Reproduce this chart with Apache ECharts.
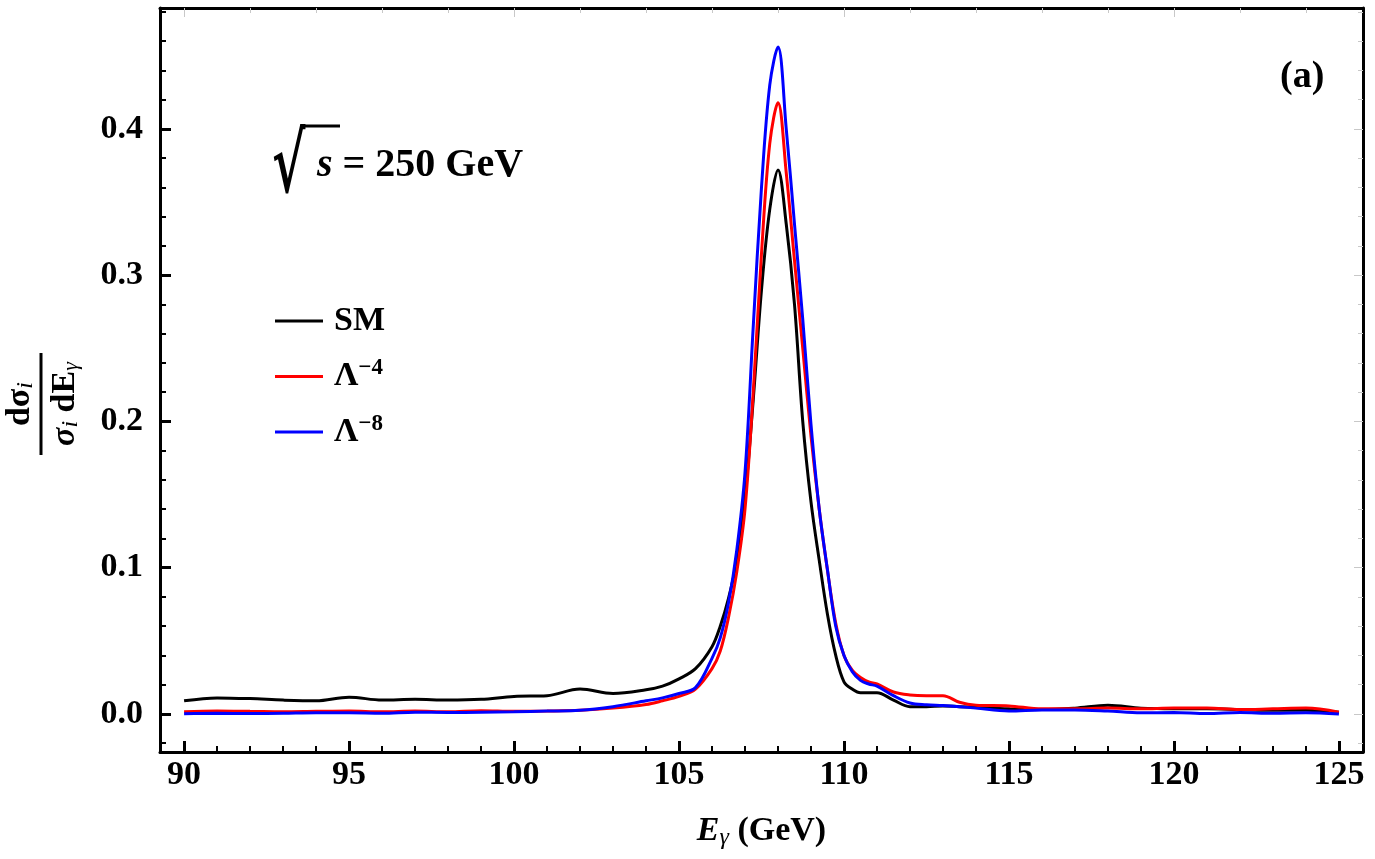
<!DOCTYPE html>
<html>
<head>
<meta charset="utf-8">
<script src="https://cdn.jsdelivr.net/npm/echarts@6/dist/echarts.min.js"></script>
<style>
    html, body { margin: 0; padding: 0; background: #fff; }
    #chart { width: 1375px; height: 859px; }
</style>
</head>
<body>
<div id="chart"></div>
<script>
// photon energy grid (GeV)
const energies = [90, 91, 92, 93, 94, 95, 96, 97, 98, 99, 100, 101, 102, 103, 104,
    104.5, 105, 105.5, 106,
    106.25, 106.5, 106.75, 107, 107.25, 107.5, 107.75, 108, 108.25, 108.5, 108.75,
    109, 109.25, 109.5, 109.75, 110, 110.25, 110.5, 110.75, 111,
    111.5, 112, 112.5, 113, 113.5, 114,
    115, 116, 117, 118, 119, 120, 121, 122, 123, 124, 125];

const smValues = [0.009, 0.011, 0.0105, 0.0095, 0.009, 0.0115, 0.0095, 0.010, 0.0095, 0.010, 0.012, 0.0125, 0.017, 0.014, 0.0165,
    0.019, 0.024, 0.031, 0.046,
    0.060, 0.079, 0.105, 0.148, 0.215, 0.290, 0.345, 0.372, 0.335, 0.280, 0.200,
    0.145, 0.105, 0.068, 0.040, 0.022, 0.017, 0.0145, 0.0145, 0.0145,
    0.0095, 0.005, 0.005, 0.0055, 0.005, 0.0045,
    0.0035, 0.003, 0.004, 0.006, 0.004, 0.0035, 0.0035, 0.003, 0.0025, 0.0025, 0.0012];

const lambda4Values = [0.0015, 0.002, 0.0018, 0.0015, 0.0018, 0.002, 0.0015, 0.002, 0.0015, 0.0022, 0.0018, 0.002, 0.0025, 0.004, 0.0065,
    0.009, 0.012, 0.017, 0.031,
    0.043, 0.066, 0.097, 0.140, 0.220, 0.315, 0.390, 0.418, 0.370, 0.310, 0.250,
    0.190, 0.140, 0.098, 0.062, 0.040, 0.030, 0.025, 0.022, 0.0205,
    0.015, 0.013, 0.0125, 0.0125, 0.008, 0.006,
    0.0055, 0.0035, 0.0035, 0.004, 0.0035, 0.004, 0.004, 0.003, 0.0035, 0.004, 0.0012];

const lambda8Values = [0.0002, 0.0005, 0.0003, 0.0005, 0.0008, 0.0008, 0.0005, 0.0012, 0.001, 0.0012, 0.0015, 0.002, 0.0025, 0.005, 0.009,
    0.011, 0.014, 0.018, 0.038,
    0.052, 0.076, 0.112, 0.165, 0.265, 0.360, 0.430, 0.456, 0.400, 0.335, 0.270,
    0.198, 0.140, 0.0985, 0.060, 0.040, 0.029, 0.023, 0.0205, 0.019,
    0.0125, 0.0075, 0.0063, 0.0058, 0.005, 0.004,
    0.002, 0.0028, 0.0028, 0.002, 0.0008, 0.001, 0.0003, 0.001, 0.0005, 0.0008, 0.0];

const seriesNames = ['SM', 'L4', 'L8'];
const seriesColors = ['#000000', '#ff0000', '#0000ff'];

const xTickLabels = [90, 95, 100, 105, 110, 115, 120, 125];
const yTickLabels = [0.0, 0.1, 0.2, 0.3, 0.4];

const X_MIN = 89.27, X_MAX = 125.73;
const Y_MIN = -0.026, Y_MAX = 0.4827;

const FONT = '"Liberation Serif", "Times New Roman", serif';
const FS = 34;

function range(a, b, step) {
    let out = [];
    for (let i = 0; a + i * step <= b + 1e-9; i++) {
        out.push(+(a + i * step).toFixed(4));
    }
    return out;
}

const xMinorTicks = range(90, 125, 1);
const xTopMajor = [90, 100, 110, 120];
const xTopMinor = range(90, 124, 2);
const yMinorTicks = range(-0.02, 0.48, 0.02);

function pairs(values) {
    return energies.map((e, i) => [e, values[i]]);
}

const gridRect = { left: 160, right: 12, top: 8, bottom: 107 };

function xAxisBase(gridIndex, position) {
    return {
        type: 'value', gridIndex: gridIndex, position: position,
        min: X_MIN, max: X_MAX,
        splitLine: { show: false },
        axisLine: { show: false, onZero: false },
        axisLabel: { show: false },
        axisTick: { show: false }
    };
}

function yAxisBase(gridIndex, position) {
    return {
        type: 'value', gridIndex: gridIndex, position: position,
        min: Y_MIN, max: Y_MAX,
        splitLine: { show: false },
        axisLine: { show: false, onZero: false },
        axisLabel: { show: false },
        axisTick: { show: false }
    };
}

const frameLine = { show: true, onZero: false, lineStyle: { color: '#000', width: 3 } };

const xBottom = Object.assign(xAxisBase(0, 'bottom'), {
    axisLine: frameLine,
    axisTick: { show: true, inside: true, length: 11, customValues: xTickLabels,
        lineStyle: { color: '#000', width: 3 } },
    axisLabel: { show: true, customValues: xTickLabels, margin: 6,
        fontFamily: FONT, fontWeight: 'bold', fontSize: FS, color: '#000' },
    name: '{e|E}{g|γ}{t| (GeV)}',
    nameLocation: 'middle',
    nameGap: 60,
    nameTextStyle: {
        rich: {
            e: { fontFamily: FONT, fontWeight: 'bold', fontStyle: 'italic', fontSize: FS, color: '#000' },
            g: { fontFamily: FONT, fontStyle: 'italic', fontSize: 24, color: '#000', padding: [14, 0, 0, 0] },
            t: { fontFamily: FONT, fontWeight: 'bold', fontSize: FS, color: '#000' }
        }
    }
});

const xTop = Object.assign(xAxisBase(0, 'top'), {
    axisLine: frameLine,
    axisTick: { show: true, inside: true, length: 9, customValues: xTopMajor,
        lineStyle: { color: '#c8c8c8', width: 1 } }
});

const xBottomMinor = Object.assign(xAxisBase(1, 'bottom'), {
    axisTick: { show: true, inside: true, length: 6, customValues: xMinorTicks,
        lineStyle: { color: '#000', width: 2 } }
});

const xTopMinorAxis = Object.assign(xAxisBase(1, 'top'), {
    axisTick: { show: true, inside: true, length: 5, customValues: xTopMinor,
        lineStyle: { color: '#c8c8c8', width: 1 } }
});

const yLeft = Object.assign(yAxisBase(0, 'left'), {
    axisLine: frameLine,
    axisTick: { show: true, inside: true, length: 11, customValues: yTickLabels,
        lineStyle: { color: '#000', width: 3 } },
    axisLabel: { show: true, customValues: yTickLabels, margin: 17,
        formatter: v => v.toFixed(1),
        fontFamily: FONT, fontWeight: 'bold', fontSize: FS, color: '#000' }
});

const yRight = Object.assign(yAxisBase(0, 'right'), {
    axisLine: frameLine,
    axisTick: { show: true, inside: true, length: 9, customValues: yTickLabels,
        lineStyle: { color: '#c8c8c8', width: 1 } }
});

const yLeftMinor = Object.assign(yAxisBase(1, 'left'), {
    axisTick: { show: true, inside: true, length: 6, customValues: yMinorTicks,
        lineStyle: { color: '#000', width: 2 } }
});

const yRightMinor = Object.assign(yAxisBase(1, 'right'), {
    axisTick: { show: true, inside: true, length: 5, customValues: yMinorTicks,
        lineStyle: { color: '#c8c8c8', width: 1 } }
});

const legendLabels = {
    SM: 'SM',
    L4: 'Λ{sup|−4}',
    L8: 'Λ{sup|−8}'
};

const chart = echarts.init(document.getElementById('chart'), null, { renderer: 'canvas' });

chart.setOption({
    animation: false,
    backgroundColor: '#fff',
    grid: [
        Object.assign({ containLabel: false }, gridRect),
        Object.assign({ containLabel: false }, gridRect)
    ],
    xAxis: [xBottom, xTop, xBottomMinor, xTopMinorAxis],
    yAxis: [yLeft, yRight, yLeftMinor, yRightMinor],
    legend: {
        orient: 'vertical',
        left: 270,
        top: 299,
        icon: 'rect',
        itemWidth: 48,
        itemHeight: 3,
        itemGap: 19,
        selectedMode: false,
        data: seriesNames,
        formatter: name => legendLabels[name],
        textStyle: {
            fontFamily: FONT, fontWeight: 'bold', fontSize: FS, color: '#000',
            padding: [0, 0, 0, 6],
            rich: {
                sup: { fontFamily: FONT, fontWeight: 'bold', fontSize: 23, color: '#000',
                    verticalAlign: 'top', padding: [0, 0, 16, 0] }
            }
        }
    },
    series: seriesNames.map((name, i) => ({
        name: name,
        type: 'line',
        xAxisIndex: 0,
        yAxisIndex: 0,
        data: pairs([smValues, lambda4Values, lambda8Values][i]),
        showSymbol: false,
        symbol: 'none',
        smooth: 0.35,
        clip: true,
        itemStyle: { color: seriesColors[i] },
        lineStyle: { color: seriesColors[i], width: 3 },
        z: 2 + i
    })),
    graphic: [
        // y-axis fraction label
        {
            type: 'group',
            x: 41, y: 404,
            rotation: Math.PI / 2,
            children: [
                {
                    type: 'text', x: 0, y: -21,
                    style: {
                        text: '{d|dσ}{i|i}',
                        align: 'center', verticalAlign: 'middle',
                        rich: {
                            d: { fontFamily: FONT, fontWeight: 'bold', fontSize: FS, fill: '#000' },
                            i: { fontFamily: FONT, fontStyle: 'italic', fontSize: 24, fill: '#000', padding: [12, 0, 0, 0] }
                        }
                    }
                },
                {
                    type: 'line',
                    shape: { x1: -51, y1: 0, x2: 51, y2: 0 },
                    style: { stroke: '#000', lineWidth: 3 }
                },
                {
                    type: 'text', x: 0, y: 24,
                    style: {
                        text: '{s|σ}{i|i}{d| dE}{g|γ}',
                        align: 'center', verticalAlign: 'middle',
                        rich: {
                            s: { fontFamily: FONT, fontWeight: 'bold', fontStyle: 'italic', fontSize: FS, fill: '#000' },
                            i: { fontFamily: FONT, fontStyle: 'italic', fontSize: 24, fill: '#000', padding: [12, 0, 0, 0] },
                            d: { fontFamily: FONT, fontWeight: 'bold', fontSize: FS, fill: '#000' },
                            g: { fontFamily: FONT, fontStyle: 'italic', fontSize: 22, fill: '#000', padding: [12, 0, 0, 0] }
                        }
                    }
                }
            ]
        },
        // sqrt(s) = 250 GeV annotation
        {
            type: 'text', x: 272, y: 130,
            scaleX: 0.62,
            style: {
                text: '√',
                fontFamily: '"DejaVu Serif", serif', fontWeight: 'bold', fontSize: 82, fill: '#000'
            }
        },
        {
            type: 'line',
            shape: { x1: 300, y1: 126, x2: 340, y2: 126 },
            style: { stroke: '#000', lineWidth: 3 }
        },
        {
            type: 'text', left: 317, top: 146,
            style: {
                text: '{s|s}{t| = 250 GeV}',
                rich: {
                    s: { fontFamily: FONT, fontWeight: 'bold', fontStyle: 'italic', fontSize: 40, fill: '#000' },
                    t: { fontFamily: FONT, fontWeight: 'bold', fontSize: 40, fill: '#000' }
                }
            }
        },
        {
            type: 'text', left: 1280, top: 58,
            style: {
                text: '(a)',
                fontFamily: FONT, fontWeight: 'bold', fontSize: 38, fill: '#000'
            }
        }
    ]
});
</script>
</body>
</html>
